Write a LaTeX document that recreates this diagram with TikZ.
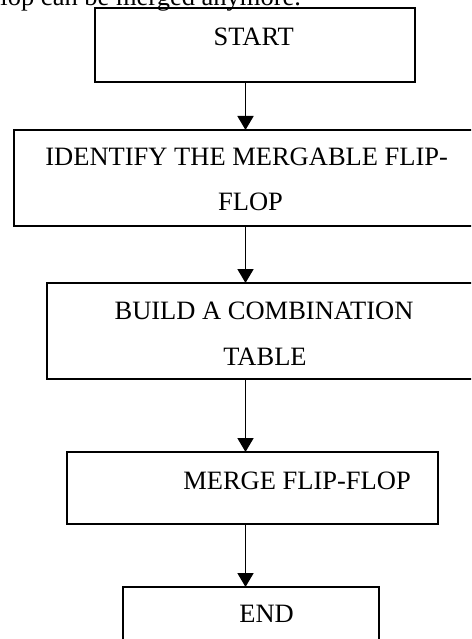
\documentclass[tikz,border=0pt]{standalone}
\usepackage{fontspec}
\setmainfont{Liberation Serif}
\usetikzlibrary{arrows.meta}
\begin{document}
\begin{tikzpicture}[x=1pt,y=-1pt,
  box/.style={draw=black, line width=1.8pt, inner sep=0pt, outer sep=0pt, anchor=north west},
  txt/.style={inner sep=0pt, outer sep=0pt, font=\fontsize{26.5}{30}\selectfont, text=black},
  arr/.style={line width=1.8pt, -{Triangle[length=14pt,width=16pt]}}]
\useasboundingbox (0,0) rectangle (471,639);
\clip (0,0) rectangle (471,639);
\fill[white] (0,0) rectangle (471,639);
% boxes
\node[box, minimum width=320pt, minimum height=74pt] (b1) at (95,8) {};
\node[box, minimum width=470pt, minimum height=96pt] (b2) at (14,130) {};
\node[box, minimum width=437pt, minimum height=96pt] (b3) at (47,283) {};
\node[box, minimum width=371pt, minimum height=72pt] (b4) at (67,452) {};
\node[box, minimum width=256pt, minimum height=70pt] (b5) at (123,587) {};
% texts
\node[txt, anchor=base west] (intro) at (0.5,5.5) {lop can be merged anymore.};
\node[txt, anchor=base] (t1) at (253.7,45.7) {START};
\node[txt, anchor=base] (t2a) at (246.7,165) {IDENTIFY THE MERGABLE FLIP-};
\node[txt, anchor=base] (t2b) at (250.5,210.5) {FLOP};
\node[txt, anchor=base] (t3a) at (264,319) {BUILD A COMBINATION};
\node[txt, anchor=base] (t3b) at (265,365) {TABLE};
\node[txt, anchor=base] (t4) at (297,489) {MERGE FLIP-FLOP};
\node[txt, anchor=base] (t5) at (266.6,622.3) {END};
% connectors
\coordinate (ax) at (245.5,0);
\draw[arr] (b1.south -| ax) -- (b2.north -| ax);
\draw[arr] (b2.south -| ax) -- (b3.north -| ax);
\draw[arr] (b3.south -| ax) -- (b4.north -| ax);
\draw[arr] (b4.south -| ax) -- (b5.north -| ax);
\end{tikzpicture}
\end{document}
